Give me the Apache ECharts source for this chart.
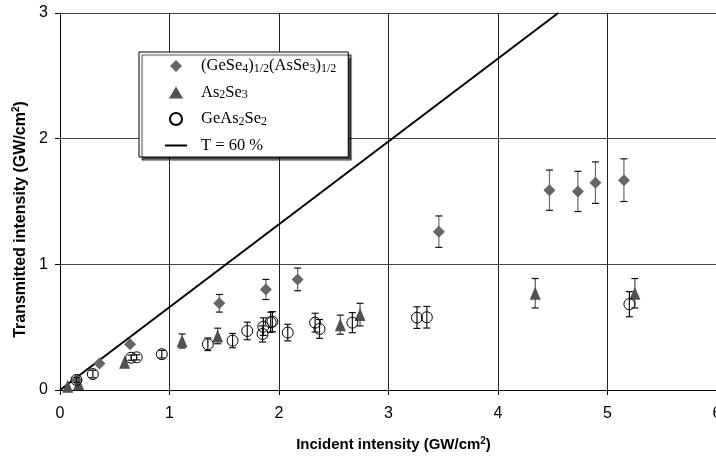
<!DOCTYPE html>
<html>
<head>
<meta charset="utf-8">
<script src="https://cdn.jsdelivr.net/npm/echarts@6/dist/echarts.min.js"></script>
<style>
html,body{margin:0;padding:0;background:#fff;}
#chart{width:716px;height:457px;}
</style>
</head>
<body>
<div id="chart"></div>
<script>
// ---- Data ----
const xTicks = [0, 1, 2, 3, 4, 5, 6];
const yTicks = [0, 1, 2, 3];

// (GeSe4)1/2(AsSe3)1/2
const gaX   = [0.15, 0.36, 0.64, 1.455, 1.88, 2.17, 3.46, 4.47, 4.73, 4.89, 5.15];
const gaY   = [0.08, 0.21, 0.365, 0.69, 0.80, 0.88, 1.26, 1.59, 1.58, 1.65, 1.67];
const gaErr = [0, 0, 0, 0.07, 0.08, 0.09, 0.125, 0.16, 0.16, 0.165, 0.17];

// As2Se3
const asX   = [0.07, 0.17, 0.59, 1.115, 1.44, 2.56, 2.74, 4.34, 5.25];
const asY   = [0.03, 0.05, 0.22, 0.39, 0.43, 0.52, 0.60, 0.77, 0.77];
const asErr = [0, 0, 0, 0.056, 0.062, 0.076, 0.09, 0.117, 0.117];

// GeAs2Se2
const geX   = [0.15, 0.30, 0.65, 0.70, 0.93, 1.35, 1.576, 1.71, 1.85, 1.857, 1.924, 1.94, 2.08, 2.33, 2.37, 2.67, 3.26, 3.35, 5.2];
const geY   = [0.08, 0.127, 0.257, 0.26, 0.285, 0.364, 0.393, 0.47, 0.446, 0.504, 0.539, 0.544, 0.457, 0.536, 0.486, 0.536, 0.576, 0.579, 0.683];
const geErr = [0.02, 0.03, 0.02, 0.02, 0.03, 0.05, 0.057, 0.07, 0.064, 0.07, 0.08, 0.08, 0.066, 0.075, 0.075, 0.08, 0.086, 0.086, 0.1];

// T = 60 % reference line
const lineX = [0, 4.55];
const lineY = [0, 3];

function zip(xs, ys, es) {
  return xs.map((x, i) => es ? [x, ys[i], es[i]] : [x, ys[i]]);
}

const legendLabels = {
  'GA': '{g|}{n|(GeSe}{s|4}{n|)}{s|1/2}{n|(AsSe}{s|3}{n|)}{s|1/2}',
  'AS': '{g|}{n|As}{s|2}{n|Se}{s|3}',
  'GE': '{g|}{n|GeAs}{s|2}{n|Se}{s|2}',
  'T':  '{g|}{n|T = 60 %}'
};

function errorBars(stemColor, capColor) {
  return function (params, api) {
    const x = api.value(0), y = api.value(1), e = api.value(2);
    if (!e) return null;
    const top = api.coord([x, y + e]);
    const bot = api.coord([x, y - e]);
    const hw = 3.5;
    return {
      type: 'group',
      children: [
        {type: 'line', shape: {x1: top[0], y1: top[1], x2: bot[0], y2: bot[1]}, style: {stroke: stemColor, lineWidth: 1.2}},
        {type: 'line', shape: {x1: top[0] - hw, y1: top[1], x2: top[0] + hw, y2: top[1]}, style: {stroke: capColor, lineWidth: 1.2}},
        {type: 'line', shape: {x1: bot[0] - hw, y1: bot[1], x2: bot[0] + hw, y2: bot[1]}, style: {stroke: capColor, lineWidth: 1.2}}
      ]
    };
  };
}

const nameRich = {
  b: {fontFamily: 'Liberation Sans', fontWeight: 'bold', fontSize: 15, color: '#000', lineHeight: 17},
  p: {fontFamily: 'Liberation Sans', fontWeight: 'bold', fontSize: 10, color: '#000', lineHeight: 10, verticalAlign: 'top'}
};
const nameRichY = {
  b: {fontFamily: 'Liberation Sans', fontWeight: 'bold', fontSize: 16, color: '#000', lineHeight: 18},
  p: {fontFamily: 'Liberation Sans', fontWeight: 'bold', fontSize: 10, color: '#000', lineHeight: 10, verticalAlign: 'top'}
};

const chart = echarts.init(document.getElementById('chart'), null, {renderer: 'canvas'});
chart.setOption({
  animation: false,
  backgroundColor: '#fff',
  grid: {left: 60, top: 13, width: 657, height: 377, containLabel: false, outerBoundsMode: 'none'},
  xAxis: {
    type: 'value', min: xTicks[0], max: xTicks[xTicks.length - 1], interval: 1,
    name: '{b|Incident intensity (GW/cm}{p|2}{b|)}',
    nameLocation: 'middle', nameGap: 46,
    nameTextStyle: {padding: [0, 0, 0, 10], rich: nameRich},
    axisLine: {lineStyle: {color: '#000', width: 1}},
    axisTick: {show: true, inside: false, length: 5, lineStyle: {color: '#000'}},
    axisLabel: {fontFamily: 'Liberation Sans', fontSize: 16, color: '#000', margin: 16, hideOverlap: false},
    splitLine: {show: true, lineStyle: {color: '#222', width: 1}}
  },
  yAxis: {
    type: 'value', min: yTicks[0], max: yTicks[yTicks.length - 1], interval: 1,
    name: '{b|Transmitted intensity (GW/cm}{p|2}{b|)}',
    nameLocation: 'middle', nameGap: 30, nameRotate: 90,
    nameTextStyle: {padding: [0, 36, 0, 0], rich: nameRichY},
    axisLine: {show: true, lineStyle: {color: '#000', width: 1}},
    axisTick: {show: true, inside: false, length: 5, lineStyle: {color: '#000'}},
    axisLabel: {fontFamily: 'Liberation Sans', fontSize: 16, color: '#000', margin: 12},
    splitLine: {show: true, lineStyle: {color: '#444', width: 1}}
  },
  legend: {
    orient: 'vertical', left: 139, top: 52, align: 'left',
    padding: [5.5, 12, 3, 26],
    itemWidth: 22, itemHeight: 12, itemGap: 9.5,
    symbolKeepAspect: true,
    backgroundColor: '#fff', borderColor: '#000', borderWidth: 1,
    shadowColor: 'rgba(0,0,0,0.75)', shadowBlur: 1, shadowOffsetX: 3, shadowOffsetY: 3,
    selectedMode: false,
    data: [
      {name: 'GA', icon: 'path://M6,0L12,6L6,12L0,6Z'},
      {name: 'AS', icon: 'path://M6,0L12.5,11L-0.5,11Z'},
      {name: 'GE', icon: 'circle'},
      {name: 'T', icon: 'path://M0,0L22,0L22,2L0,2Z', itemStyle: {color: '#000'}}
    ],
    formatter: function (name) { return legendLabels[name]; },
    textStyle: {
      rich: {
        g: {width: 9, lineHeight: 17},
        n: {fontFamily: 'Liberation Serif', fontSize: 16.5, color: '#000', lineHeight: 17},
        s: {fontFamily: 'Liberation Serif', fontSize: 12, color: '#000', lineHeight: 8, verticalAlign: 'bottom'}
      }
    }
  },
  series: [
    {
      name: 'T', type: 'line', data: zip(lineX, lineY), symbol: 'none',
      lineStyle: {color: '#000', width: 2}, itemStyle: {color: '#000'}, z: 2, silent: true
    },
    {
      name: 'gaErr', type: 'custom', data: zip(gaX, gaY, gaErr),
      renderItem: errorBars('#6a6a6a', '#111'), encode: {x: 0, y: 1}, z: 3, silent: true
    },
    {
      name: 'asErr', type: 'custom', data: zip(asX, asY, asErr),
      renderItem: errorBars('#555', '#111'), encode: {x: 0, y: 1}, z: 3, silent: true
    },
    {
      name: 'GA', type: 'scatter', data: zip(gaX, gaY), symbol: 'diamond', symbolSize: [12, 12],
      itemStyle: {color: '#666666', opacity: 1}, z: 4
    },
    {
      name: 'AS', type: 'scatter', data: zip(asX, asY), symbol: 'triangle', symbolSize: [11, 13],
      itemStyle: {color: '#505050', opacity: 1}, z: 4
    },
    {
      name: 'GE', type: 'scatter', data: zip(geX, geY), symbol: 'circle', symbolSize: 11,
      itemStyle: {color: 'rgba(255,255,255,0)', borderColor: '#000', borderWidth: 1, opacity: 1}, z: 5
    },
    {
      name: 'geErr', type: 'custom', data: zip(geX, geY, geErr),
      renderItem: errorBars('#111', '#111'), encode: {x: 0, y: 1}, z: 6, silent: true
    }
  ]
});
</script>
</body>
</html>
